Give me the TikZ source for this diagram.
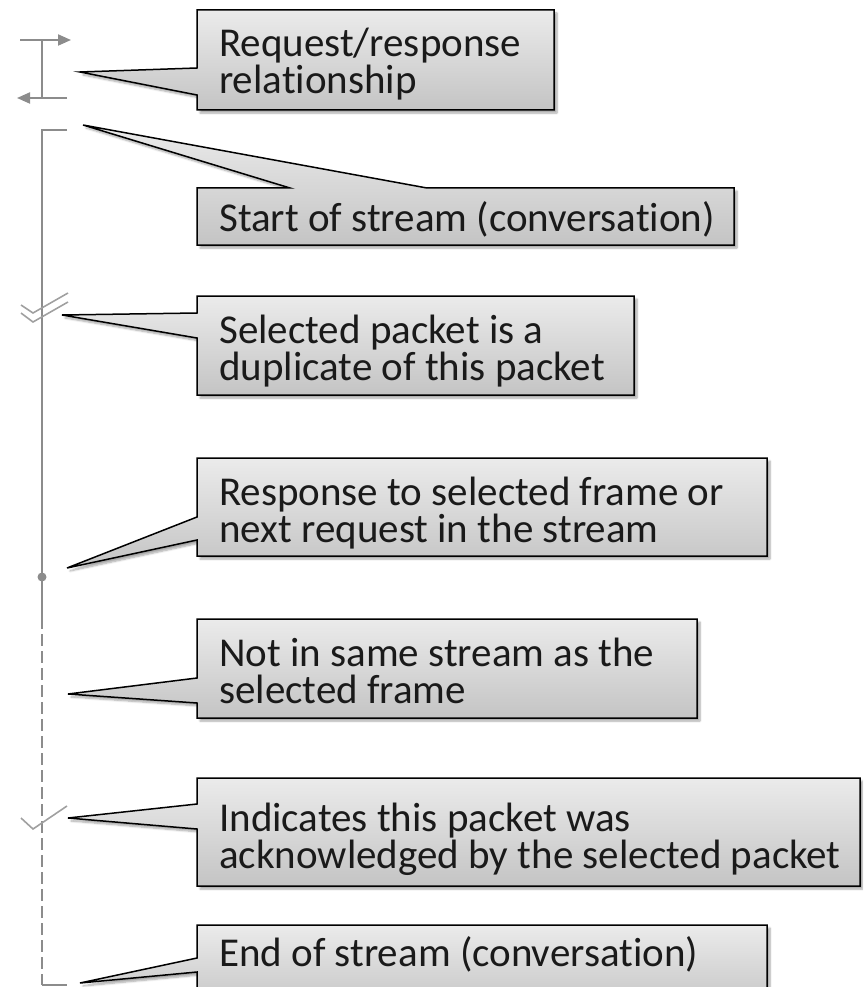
\documentclass[tikz,border=0pt]{standalone}
\usepackage{fontspec}
\setmainfont[Ligatures={NoCommon,NoRare}]{Carlito}
\usetikzlibrary{arrows.meta,shadows.blur}
\definecolor{lin}{HTML}{8C8C8C}
\definecolor{linlt}{HTML}{A0A0A0}
\definecolor{ctop}{HTML}{EBEBEB}
\definecolor{cbot}{HTML}{C4C4C4}
\definecolor{txt}{HTML}{1A1A1A}
\tikzset{
 callout/.style={draw=black, line width=1.5pt, top color=ctop, bottom color=cbot,
   blur shadow={shadow xshift=3pt, shadow yshift=-3pt, shadow blur steps=6, shadow opacity=35}},
 lbl/.style={anchor=base west, inner sep=0pt, font=\fontsize{41pt}{37pt}\selectfont, text=txt},
 guide/.style={draw=lin, line width=2pt},
 tick/.style={draw=linlt, line width=1.6pt},
 reqarrow/.style={guide, -{Triangle[length=13pt,width=11pt]}},
}
\begin{document}
\begin{tikzpicture}[x=1pt,y=-1pt]
\useasboundingbox (0,0) rectangle (863,987);
\clip (0,0) rectangle (863,987);

% ---- guide symbols on the left ----
\coordinate (rqA) at (20,40);
\coordinate (rqB) at (71,40);
\coordinate (rqC) at (42,40);
\coordinate (rqD) at (42,98);
\coordinate (rqE) at (67,98);
\coordinate (rqF) at (17,98);
\draw[reqarrow] (rqA) -- (rqB);
\draw[guide] (rqC) -- (rqD);
\draw[reqarrow] (rqE) -- (rqF);

\coordinate (stTop) at (67,130);
\coordinate (stCorner) at (42,130);
\coordinate (stSolidEnd) at (42,617);
\coordinate (stEndCorner) at (42,985);
\coordinate (stBot) at (67,985);
\coordinate (stDot) at (42,577);
\draw[guide] (stTop) -- (stCorner) -- (stSolidEnd);
\draw[guide, dash pattern=on 12pt off 5pt] (stSolidEnd) -- (stEndCorner);
\draw[guide] (stEndCorner) -- (stBot);
\fill[lin] (stDot) circle (4.5);

\draw[tick] (21,305) -- (33,313) -- (68,293);
\draw[tick] (21,313) -- (33,322) -- (68,302);
\draw[tick] (21,818) -- (33,829) -- (67,806);

% ---- callouts ----
\path[callout] (197,10) -- (554,10) -- (554,110) -- (197,110) -- (197,95) -- (80,72) -- (197,68) -- cycle;
\node[lbl] (t1a) at (219,57) {Request/response};
\node[lbl] (t1b) at (219,94) {relationship};

\path[callout] (197,188) -- (290,188) -- (83,125) -- (427,188) -- (734,188) -- (734,245) -- (197,245) -- cycle;
\node[lbl] (t2a) at (219,231) {Start of stream (conversation)};

\path[callout] (197,296) -- (634,296) -- (634,395) -- (197,395) -- (197,338) -- (62,315) -- (197,313) -- cycle;
\node[lbl] (t3a) at (219,343) {Selected packet is a};
\node[lbl] (t3b) at (219,380) {duplicate of this packet};

\path[callout] (197,458) -- (767,458) -- (767,556) -- (197,556) -- (197,540) -- (67,568) -- (197,517) -- cycle;
\node[lbl] (t4a) at (219,505) {Response to selected frame or};
\node[lbl] (t4b) at (219,542) {next request in the stream};

\path[callout] (197,619) -- (697,619) -- (697,718) -- (197,718) -- (197,703) -- (68,694) -- (197,678) -- cycle;
\node[lbl] (t5a) at (219,666) {Not in same stream as the};
\node[lbl] (t5b) at (219,703) {selected frame};

\path[callout] (197,778) -- (860,778) -- (860,886) -- (197,886) -- (197,829) -- (68,818) -- (197,804) -- cycle;
\node[lbl] (t6a) at (219,831) {Indicates this packet was};
\node[lbl] (t6b) at (219,868) {acknowledged by the selected packet};

\path[callout] (197,925) -- (767,925) -- (767,1010) -- (197,1010) -- (197,972) -- (80,983) -- (197,958) -- cycle;
\node[lbl] (t7a) at (219,966) {End of stream (conversation)};
\end{tikzpicture}
\end{document}
